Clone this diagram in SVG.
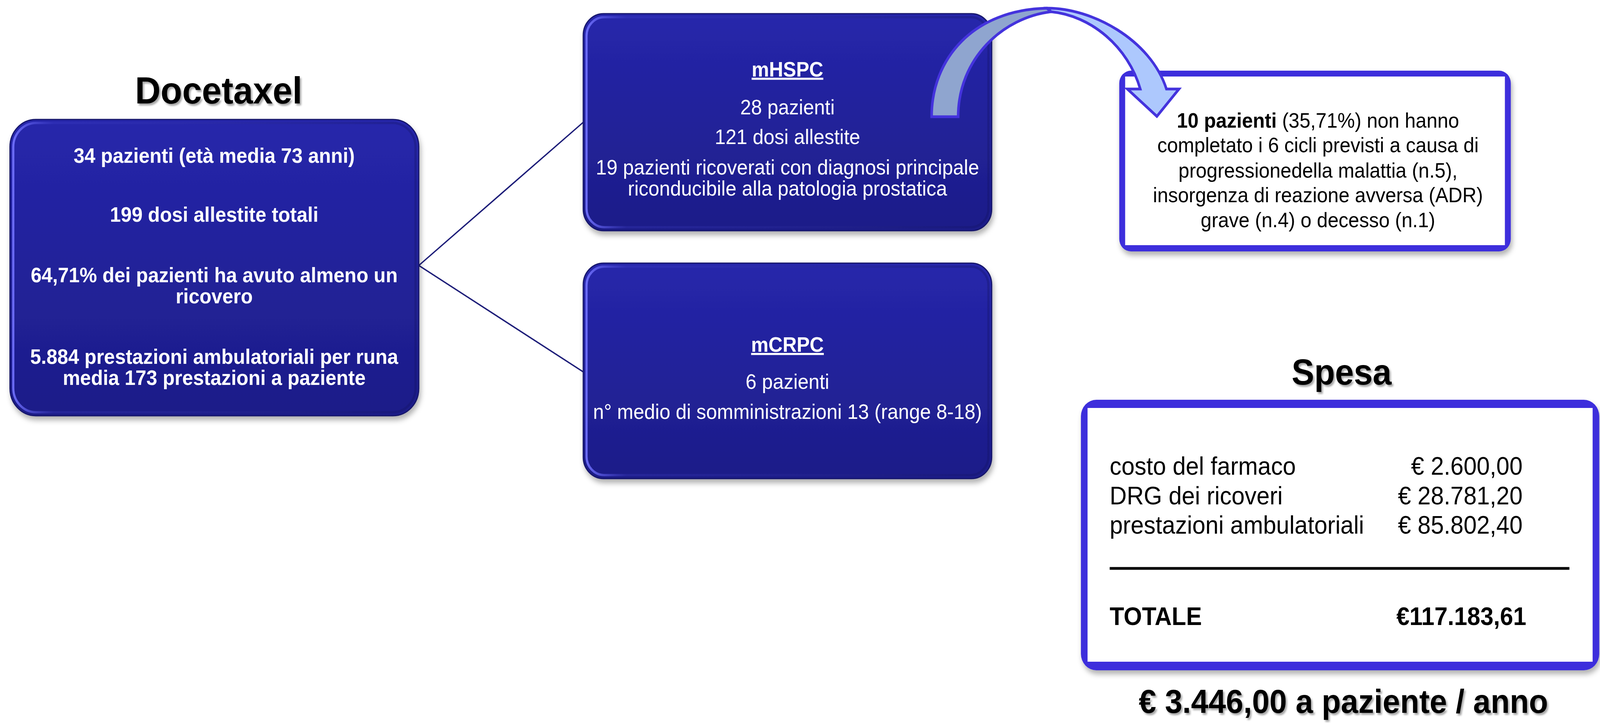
<svg xmlns="http://www.w3.org/2000/svg" width="4340" height="1852" viewBox="0 0 4340 1852" preserveAspectRatio="none">
<defs>
<style>
svg{width:100vw;height:100vh}
.t{font-family:"Liberation Sans",Arial,sans-serif}
.w{fill:#ffffff}
.k{fill:#000000}
.b{font-weight:bold}
.c{text-anchor:middle}
.r{text-anchor:end}
.title{font-family:"Liberation Sans",Arial,sans-serif;font-weight:bold;fill:#000;text-anchor:middle;filter:url(#tshadow)}
.box{fill:url(#gBlue);stroke:#16166a;stroke-width:3}
.hl{fill:none;stroke:url(#gHl);stroke-width:6}
.conn{stroke:#1c1c78;stroke-width:3.5;fill:none}
.frame{fill:#3d2edc}
.arrow{stroke:#4433dd;stroke-width:7;stroke-linejoin:miter}
</style>
<linearGradient id="gBlue" x1="0" y1="0" x2="0" y2="1">
<stop offset="0" stop-color="#2626ab"/>
<stop offset="1" stop-color="#1d1d88"/>
</linearGradient>
<linearGradient id="gHl" x1="0" y1="0" x2="1" y2="0">
<stop offset="0" stop-color="#7373ff" stop-opacity="0.9"/>
<stop offset="0.1" stop-color="#4a4ad8" stop-opacity="0.2"/>
<stop offset="1" stop-color="#10105a" stop-opacity="0.3"/>
</linearGradient>
<filter id="shadow" x="-5%" y="-5%" width="115%" height="120%">
<feDropShadow dx="4" dy="10" stdDeviation="7" flood-color="#000" flood-opacity="0.3"/>
</filter>
<filter id="tshadow" x="-5%" y="-10%" width="115%" height="130%">
<feDropShadow dx="4" dy="5" stdDeviation="2" flood-color="#000" flood-opacity="0.35"/>
</filter>
</defs>
<rect width="4340" height="1852" fill="#ffffff"/>

<g id="connectors">
<line class="conn" x1="1136" y1="680" x2="1586" y2="310"/>
<line class="conn" x1="1136" y1="680" x2="1586" y2="955"/>
</g>

<g id="title-docetaxel">
<text class="title" x="593" y="265" font-size="96">Docetaxel</text>
</g>

<g id="node-docetaxel">
<rect class="box" x="27" y="306" width="1109" height="759" rx="70" filter="url(#shadow)"/>
<rect class="hl" x="36" y="315" width="1091" height="741" rx="62"/>
<g class="t w b c" font-size="53">
<text x="581" y="417">34 pazienti (età media 73 anni)</text>
<text x="581" y="568">199 dosi allestite totali</text>
<text x="581" y="723">64,71% dei pazienti ha avuto almeno un</text>
<text x="581" y="777">ricovero</text>
<text x="581" y="932">5.884 prestazioni ambulatoriali per runa</text>
<text x="581" y="986">media 173 prestazioni a paziente</text>
</g>
</g>

<g id="node-mhspc">
<rect class="box" x="1582" y="35" width="1108" height="556" rx="55" filter="url(#shadow)"/>
<rect class="hl" x="1591" y="44" width="1090" height="538" rx="48"/>
<g class="t w c" font-size="53">
<text x="2136" y="196" class="b" text-decoration="underline">mHSPC</text>
<text x="2136" y="293">28 pazienti</text>
<text x="2136" y="369">121 dosi allestite</text>
<text x="2136" y="447">19 pazienti ricoverati con diagnosi principale</text>
<text x="2136" y="501">riconducibile alla patologia prostatica</text>
</g>
</g>

<g id="node-mcrpc">
<rect class="box" x="1582" y="674" width="1108" height="552" rx="55" filter="url(#shadow)"/>
<rect class="hl" x="1591" y="683" width="1090" height="534" rx="48"/>
<g class="t w c" font-size="53">
<text x="2136" y="901" class="b" text-decoration="underline">mCRPC</text>
<text x="2136" y="996">6 pazienti</text>
<text x="2136" y="1073">n° medio di somministrazioni 13 (range 8-18)</text>
</g>
</g>

<g id="node-interruzioni">
<rect class="frame" x="3036" y="181" width="1062" height="463" rx="32" filter="url(#shadow)"/>
<rect x="3052" y="196" width="1030" height="432" fill="#ffffff"/>
<g class="t k c" font-size="53">
<text x="3575" y="327"><tspan class="b">10 pazienti</tspan> (35,71%) non hanno</text>
<text x="3575" y="390">completato i 6 cicli previsti a causa di</text>
<text x="3575" y="455">progressionedella malattia (n.5),</text>
<text x="3575" y="518">insorgenza di reazione avversa (ADR)</text>
<text x="3575" y="582">grave (n.4) o decesso (n.1)</text>
</g>
</g>

<g id="arrow-curved">
<path class="arrow" fill="#8fa5cf" d="M 2527 299 C 2527 150, 2640 25, 2840 21 L 2851 30 C 2720 45, 2599 150, 2599 299 Z"/>
<path class="arrow" fill="#adc8fd" d="M 2840 21 C 2960 20, 3120 100, 3164 228 L 3198 228 L 3138 298 L 3058 228 L 3093 228 C 3060 120, 2960 40, 2851 30 Z"/>
</g>

<g id="title-spesa">
<text class="title" x="3639" y="985" font-size="92">Spesa</text>
</g>

<g id="node-spesa">
<rect class="frame" x="2932" y="1024" width="1406" height="693" rx="42" filter="url(#shadow)"/>
<rect x="2950" y="1045" width="1370" height="650" fill="#ffffff"/>
<g class="t k" font-size="64">
<text x="3010" y="1216">costo del farmaco</text>
<text x="3010" y="1292">DRG dei ricoveri</text>
<text x="3010" y="1367">prestazioni ambulatoriali</text>
<text x="4130" y="1216" class="r">€ 2.600,00</text>
<text x="4130" y="1292" class="r">€ 28.781,20</text>
<text x="4130" y="1367" class="r">€ 85.802,40</text>
<text x="3010" y="1601" class="b">TOTALE</text>
<text x="4140" y="1601" class="r b">€117.183,61</text>
</g>
<line x1="3010" y1="1456" x2="4257" y2="1456" stroke="#000" stroke-width="7"/>
</g>

<g id="total-per-patient">
<text class="title" x="3644" y="1826" font-size="85">€ 3.446,00 a paziente / anno</text>
</g>
</svg>
